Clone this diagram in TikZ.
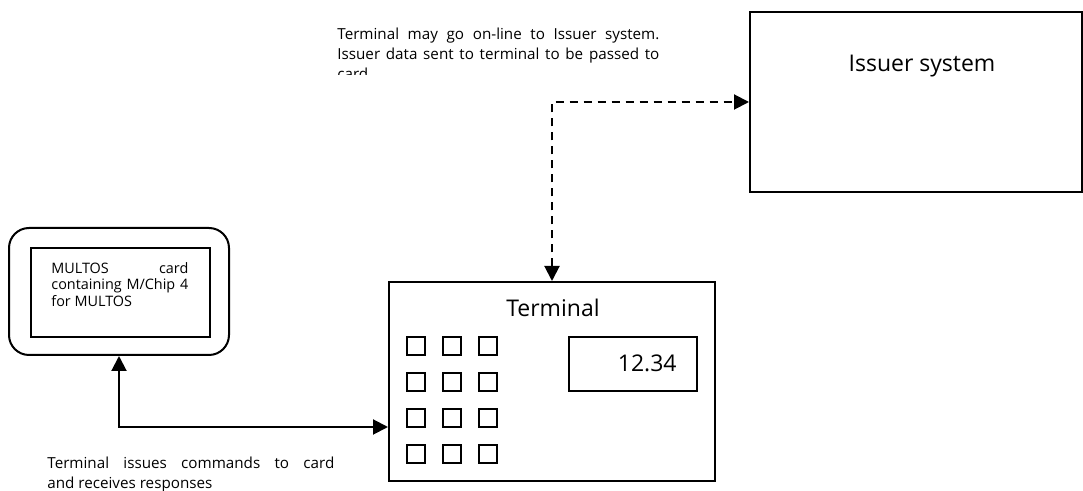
\documentclass[tikz,border=0pt]{standalone}
\usepackage{fontspec}
\setmainfont{Open Sans}
\usetikzlibrary{arrows.meta}
\tikzset{box/.style={draw, line width=1pt, inner sep=0pt},
%small square keys on the keypad
key/.style={draw, line width=0.8pt, minimum size=9pt, inner sep=0pt},
note/.style={font=\fontsize{7.6}{10}\selectfont, align=justify, inner sep=0pt, anchor=north west},
big/.style={font=\fontsize{11.5}{14}\selectfont, inner sep=0pt},
twoway/.style={line width=1pt, {Triangle[length=7.5pt,width=7.5pt]}-{Triangle[length=7.5pt,width=7.5pt]}}}

\begin{document}
\begin{tikzpicture}[x=0.5pt,y=-0.5pt]
\useasboundingbox (0,0) rectangle (1083,491);

% card
\node[box, rounded corners=10pt, minimum width=110pt, minimum height=63.5pt] (card) at (119,291.5) {};
\node[box, minimum width=89.5pt, minimum height=44.5pt] (chip) at (120.5,292.5) {};
\node[note, font=\fontsize{7.2}{8.3}\selectfont, text width=68.5pt] (cardtext) at (51,262)
  {MULTOS card\linebreak containing M/Chip 4\linebreak for MULTOS};

% terminal
\node[box, minimum width=163pt, minimum height=99.5pt] (terminal) at (552,381.5) {};
\node[big] (termlabel) at (553,308) {Terminal};
\node[box, line width=0.8pt, minimum width=64pt, minimum height=27pt] (display) at (633,364) {};
\node[big, anchor=east] (amount) at (677,363) {12.34};
\foreach \x in {1,2,3}
  \foreach \y in {1,2,3,4}
    \node[key] (key\x\y) at (380+36*\x,310+36*\y) {};

% issuer
\node[box, minimum width=166pt, minimum height=90pt] (issuer) at (916,102) {};
\node[big] (issuerlabel) at (922,66) {Issuer system};

%connectors
\draw[twoway] (card.south) |- (terminal.west |- 0,427);
\draw[twoway, dash pattern=on 4pt off 3pt] (terminal.north) |- (issuer.west);

%labels
\begin{scope}
\clip (300,0) rectangle (700,75);
\node[note, text width=161pt] (online) at (337,28)
  {Terminal may go on-line to Issuer system.\linebreak Issuer data sent to terminal to be passed to\linebreak card};
\end{scope}
\node[note, text width=143.5pt] (commands) at (47,457)
  {Terminal issues commands to card\linebreak and receives responses};

\end{tikzpicture}
\end{document}
